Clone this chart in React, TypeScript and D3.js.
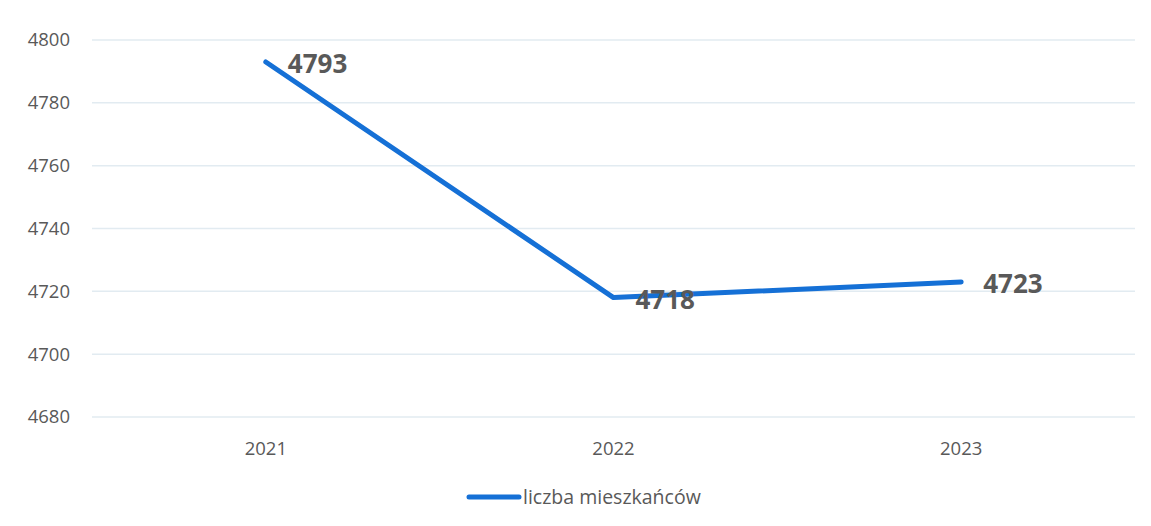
import { useEffect, useRef } from 'react';
import * as d3 from 'd3';

const years = ['2021', '2022', '2023'];
const residents = [4793, 4718, 4723];
const yTicks = [4680, 4700, 4720, 4740, 4760, 4780, 4800];
const seriesName = 'liczba mieszkańców';

export default function App() {
  const svgRef = useRef<SVGSVGElement>(null);

  useEffect(() => {
    const width = 1151;
    const height = 526;
    const margin = { top: 40, right: 16, bottom: 109, left: 92 };
    const lineColor = '#1570d6';
    const textColor = '#595959';
    const font = '"Open Sans", "Liberation Sans", sans-serif';

    const x = d3
      .scalePoint<string>()
      .domain(years)
      .range([margin.left, width - margin.right])
      .padding(0.5);

    const y = d3
      .scaleLinear()
      .domain([4680, 4800])
      .range([height - margin.bottom, margin.top]);

    const svg = d3.select(svgRef.current);
    svg.selectAll('*').remove();

    // Grid lines
    svg
      .append('g')
      .selectAll('line')
      .data(yTicks)
      .enter()
      .append('line')
      .attr('x1', margin.left)
      .attr('x2', width - margin.right)
      .attr('y1', d => y(d))
      .attr('y2', d => y(d))
      .attr('stroke', '#e2ebf1')
      .attr('stroke-width', 1.5);

    // Y labels
    svg
      .append('g')
      .selectAll('text')
      .data(yTicks)
      .enter()
      .append('text')
      .attr('x', 70)
      .attr('y', d => y(d))
      .attr('dy', '0.35em')
      .attr('text-anchor', 'end')
      .attr('fill', textColor)
      .style('font-family', font)
      .style('font-size', '18.5px')
      .text(d => d);

    // X labels
    svg
      .append('g')
      .selectAll('text')
      .data(years)
      .enter()
      .append('text')
      .attr('x', d => x(d)!)
      .attr('y', 449)
      .attr('dy', '0.35em')
      .attr('text-anchor', 'middle')
      .attr('fill', textColor)
      .style('font-family', font)
      .style('font-size', '18.5px')
      .text(d => d);

    const points = years.map((yr, i) => ({ yr, v: residents[i] }));

    // Line
    const line = d3
      .line<{ yr: string; v: number }>()
      .x(d => x(d.yr)!)
      .y(d => y(d.v));

    svg
      .append('path')
      .datum(points)
      .attr('d', line)
      .attr('fill', 'none')
      .attr('stroke', lineColor)
      .attr('stroke-width', 5)
      .attr('stroke-linecap', 'round')
      .attr('stroke-linejoin', 'round');

    // Value labels
    svg
      .append('g')
      .selectAll('text')
      .data(points)
      .enter()
      .append('text')
      .attr('x', d => x(d.yr)! + 22)
      .attr('y', d => y(d.v) + 2)
      .attr('dy', '0.35em')
      .attr('fill', textColor)
      .style('font-family', font)
      .style('font-size', '26px')
      .style('font-weight', 'bold')
      .text(d => d.v);

    // Legend
    const legend = svg.append('g').attr('transform', 'translate(469,497)');
    legend
      .append('line')
      .attr('x1', 0)
      .attr('x2', 50)
      .attr('stroke', lineColor)
      .attr('stroke-width', 5)
      .attr('stroke-linecap', 'round');
    legend
      .append('text')
      .attr('x', 54)
      .attr('dy', '0.35em')
      .attr('fill', textColor)
      .style('font-family', font)
      .style('font-size', '19.5px')
      .text(seriesName);
  }, []);

  return (
    <svg
      ref={svgRef}
      width={1151}
      height={526}
      style={{ position: 'absolute', left: 0, top: 0, background: '#fff' }}
    ></svg>
  );
}
